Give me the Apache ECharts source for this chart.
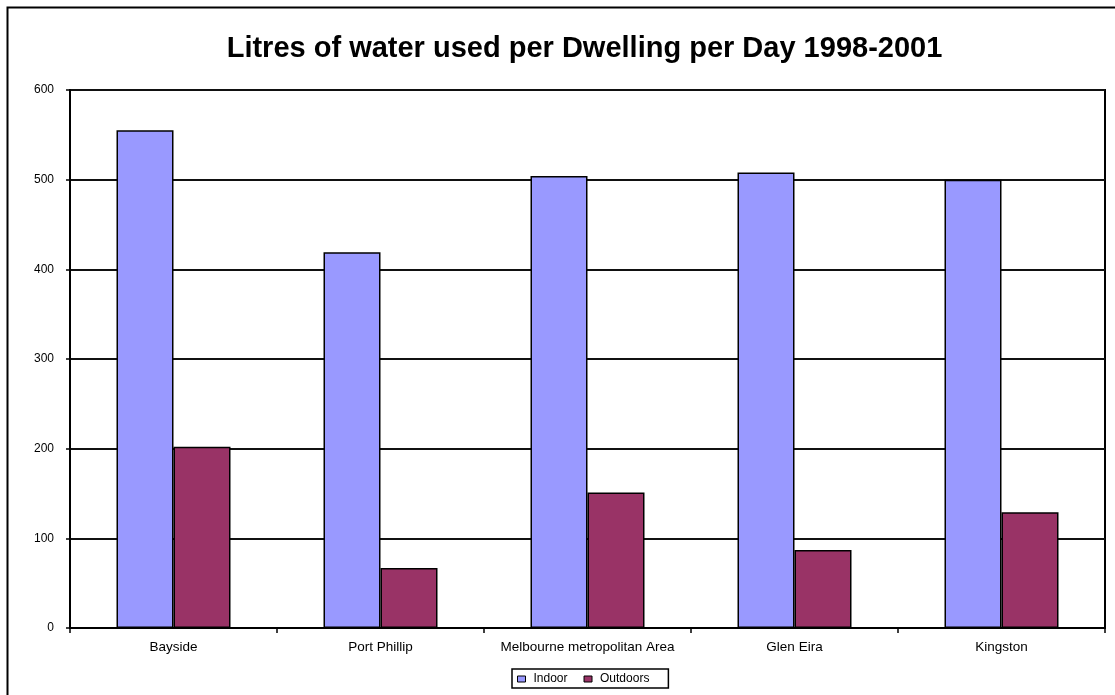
<!DOCTYPE html>
<html>
<head>
<meta charset="utf-8">
<script src="https://cdn.jsdelivr.net/npm/echarts@6/dist/echarts.min.js"></script>
<style>
  html, body { margin: 0; padding: 0; background: #fff; }
  #chart { width: 1115px; height: 695px; }
</style>
</head>
<body>
<div id="chart"></div>
<script>
// Daily water use per dwelling, by area
const categories = ['Bayside', 'Port Phillip', 'Melbourne metropolitan Area', 'Glen Eira', 'Kingston'];
const indoor = [555, 419, 504, 508, 500];
const outdoors = [202, 67, 151, 87, 129];
const yTicks = [0, 100, 200, 300, 400, 500, 600];

const FONT = '"Liberation Sans", Arial, sans-serif';
const chart = echarts.init(document.getElementById('chart'), null, { renderer: 'canvas' });

chart.setOption({
  backgroundColor: '#fff',
  animation: false,
  textStyle: { fontFamily: FONT, color: '#000' },
  graphic: [
    {
      // outer chart-area frame
      type: 'rect',
      shape: { x: 7.5, y: 7.5, width: 1130, height: 720 },
      style: { fill: null, stroke: '#000', lineWidth: 2 },
      silent: true,
      z: 0
    },
    {
      type: 'text',
      x: 584.5,
      y: 49,
      style: {
        text: 'Litres of water used per Dwelling per Day 1998-2001',
        font: 'bold 29px ' + FONT,
        fill: '#000',
        textAlign: 'center',
        textVerticalAlign: 'middle'
      },
      z: 10
    }
  ],
  grid: {
    left: 70, top: 90, right: 10, bottom: 67,
    show: true, borderColor: '#000', borderWidth: 2, backgroundColor: '#fff'
  },
  legend: {
    data: ['Indoor', 'Outdoors'],
    left: 512, top: 669,
    orient: 'horizontal',
    icon: 'rect',
    itemWidth: 8, itemHeight: 6, itemGap: 16,
    padding: [4, 19, 3, 5],
    borderColor: '#000', borderWidth: 1.5, borderRadius: 0,
    textStyle: { fontFamily: FONT, fontSize: 12, color: '#000', padding: [0, 0, 0, 3] },
    itemStyle: { borderColor: '#000', borderWidth: 1 }
  },
  xAxis: {
    type: 'category',
    data: categories,
    boundaryGap: true,
    axisLine: { lineStyle: { color: '#000', width: 2 } },
    axisTick: { show: true, length: 5, lineStyle: { color: '#000', width: 1.5 } },
    axisLabel: { fontFamily: FONT, fontSize: 13.5, color: '#000', margin: 12, interval: 0 }
  },
  yAxis: {
    type: 'value',
    min: yTicks[0], max: yTicks[yTicks.length - 1], interval: 100,
    axisLine: { show: true, lineStyle: { color: '#000', width: 2 } },
    axisTick: { show: true, length: 4, lineStyle: { color: '#000', width: 1.5 } },
    axisLabel: { fontFamily: FONT, fontSize: 12, color: '#000', margin: 16 },
    splitLine: { show: true, lineStyle: { color: '#111', width: 2 } }
  },
  series: [
    {
      name: 'Indoor', type: 'bar', data: indoor,
      barWidth: 57, barGap: '0%',
      itemStyle: { color: '#9999FF', borderColor: '#000', borderWidth: 1.5 }
    },
    {
      name: 'Outdoors', type: 'bar', data: outdoors,
      barWidth: 57, barGap: '0%',
      itemStyle: { color: '#993366', borderColor: '#000', borderWidth: 1.5 }
    }
  ]
});
</script>
</body>
</html>
